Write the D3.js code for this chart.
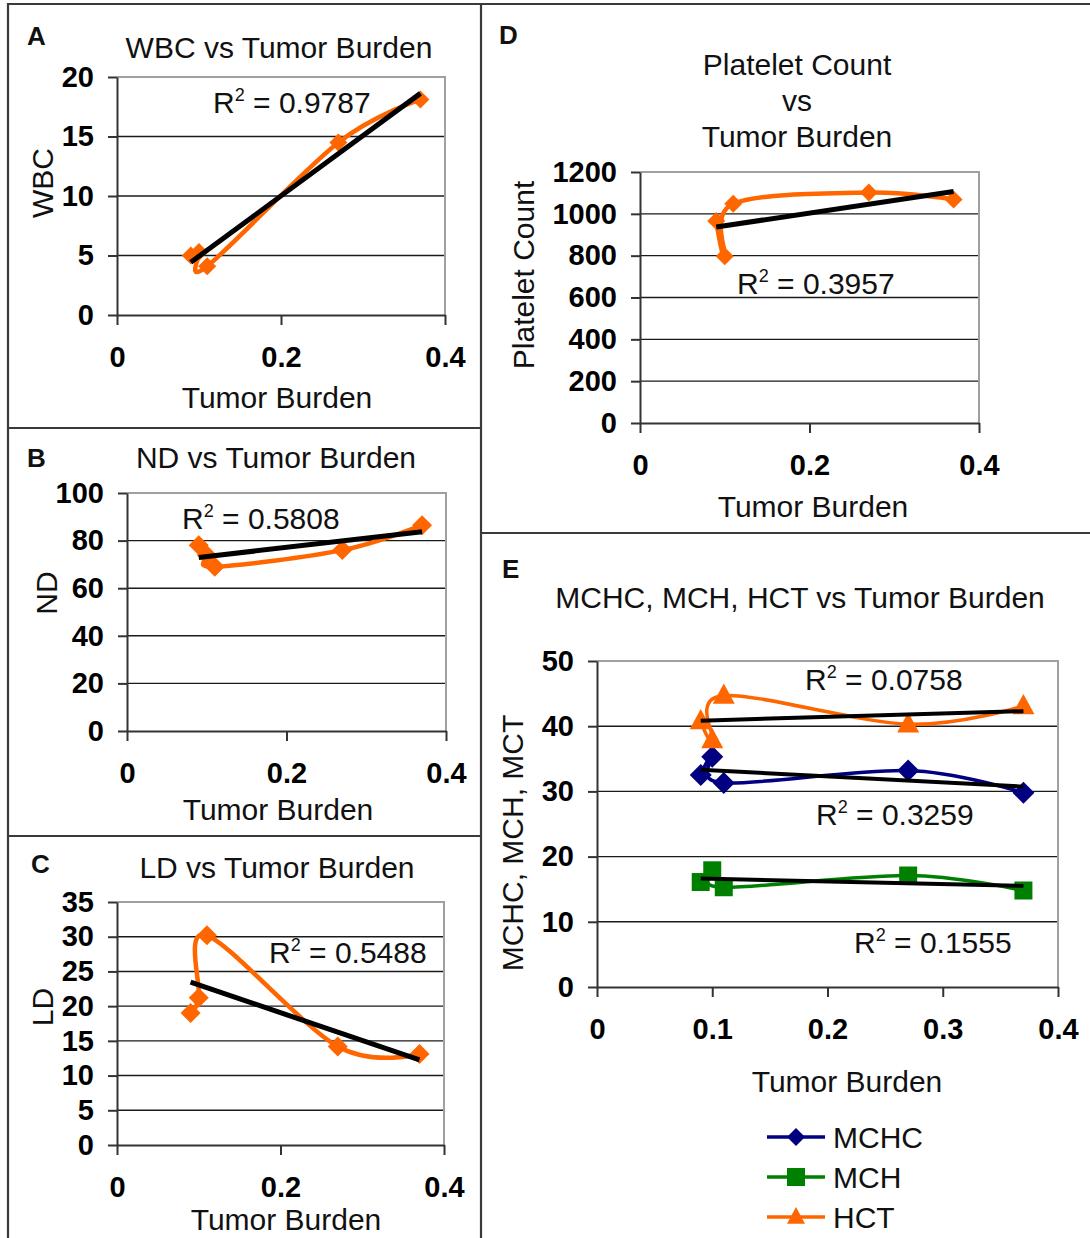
<!DOCTYPE html>
<html><head><meta charset="utf-8">
<script src="https://cdn.jsdelivr.net/npm/d3@7"></script>
<style>
body{margin:0;background:#fff}
svg{display:block;font-family:"Liberation Sans",Arial,Helvetica,sans-serif}
</style>
</head><body>
<svg id="chart" width="1090" height="1238"></svg>
<script>
// ---------- data ----------
const tumorBurden = [0.09, 0.10, 0.11, 0.27, 0.37];
const wbc = [5.0, 5.3, 4.1, 14.5, 18.1];
const nd = [78, 74, 69, 76, 86.5];
const ld = [19.0, 21.2, 30.2, 14.2, 13.1];
const plateletCount = [966, 797, 1048, 1102, 1069];
const mchc = [32.5, 35.3, 31.3, 33.2, 29.8];
const mch = [16.1, 17.9, 15.3, 17.1, 14.8];
const hct = [40.8, 37.9, 44.7, 40.3, 43.1];
const seriesNamesE = ["MCHC", "MCH", "HCT"];

const xTicks3 = [0, 0.2, 0.4];
const xTicks5 = [0, 0.1, 0.2, 0.3, 0.4];
const wbcTicks = [0, 5, 10, 15, 20];
const ndTicks = [0, 20, 40, 60, 80, 100];
const ldTicks = [0, 5, 10, 15, 20, 25, 30, 35];
const plateletTicks = [0, 200, 400, 600, 800, 1000, 1200];
const eTicks = [0, 10, 20, 30, 40, 50];

const r2A = "0.9787", r2B = "0.5808", r2C = "0.5488", r2D = "0.3957";
const r2E = ["0.3259", "0.1555", "0.0758"]; // MCHC, MCH, HCT

// ---------- helpers ----------
const svg = d3.select("#chart");
const ORANGE = "#ff6600", NAVY = "#000080", GREEN = "#008000";

function linReg(xs, ys) {
  const n = xs.length, mx = d3.mean(xs), my = d3.mean(ys);
  let sxy = 0, sxx = 0;
  for (let i = 0; i < n; i++) { sxy += (xs[i]-mx)*(ys[i]-my); sxx += (xs[i]-mx)**2; }
  const m = sxy / sxx, b = my - m * mx;
  const x0 = d3.min(xs), x1 = d3.max(xs);
  return [[x0, m*x0 + b], [x1, m*x1 + b]];
}

function markerPath(type, s) {
  if (type === "diamond") return `M0,${-s}L${s},0L0,${s}L${-s},0Z`;
  if (type === "square") return `M${-s},${-s}H${s}V${s}H${-s}Z`;
  return `M0,${-s*1.1}L${s},${s*0.75}L${-s},${s*0.75}Z`;
}

function r2Label(g, x, yb, val) {
  const t = g.append("text").attr("x", x).attr("y", yb).attr("font-size", 30).attr("fill", "#111");
  t.append("tspan").text("R");
  t.append("tspan").attr("dy", -12).attr("font-size", 18).text("2");
  t.append("tspan").attr("dy", 12).text(" = " + val);
}

function drawPanel(p) {
  const g = svg.append("g");
  const x = d3.scaleLinear().domain([0, 0.4]).range([p.l, p.r]);
  const y = d3.scaleLinear().domain([0, d3.max(p.yTicks)]).range([p.b, p.t]);

  // gridlines
  g.append("g").selectAll("line").data(p.yTicks.slice(1, -1)).join("line")
    .attr("x1", p.l).attr("x2", p.r).attr("y1", d => y(d)).attr("y2", d => y(d))
    .attr("stroke", "#1a1a1a").attr("stroke-width", 1.4);
  // plot frame top/right
  g.append("path").attr("d", `M${p.l},${p.t}H${p.r}V${p.b}`)
    .attr("fill", "none").attr("stroke", "#a0a0a0").attr("stroke-width", 2);

  // axes
  const ay = g.append("g").attr("transform", `translate(${p.l},0)`)
    .call(d3.axisLeft(y).tickValues(p.yTicks).tickSize(9).tickSizeOuter(0).tickPadding(14).tickFormat(d => d));
  const ax = g.append("g").attr("transform", `translate(0,${p.b})`)
    .call(d3.axisBottom(x).tickValues(p.xTicks).tickSize(10).tickSizeOuter(0).tickPadding(21).tickFormat(d => d === 0 ? "0" : String(d)));
  [ay, ax].forEach(a => {
    a.select(".domain").attr("stroke", "#333").attr("stroke-width", 2);
    a.selectAll(".tick line").attr("stroke", "#333").attr("stroke-width", 2);
    a.selectAll(".tick text").attr("font-size", 29).attr("font-weight", "bold")
      .attr("fill", "#000").attr("font-family", '"Liberation Sans",Arial,sans-serif');
  });

  // series
  const line = d3.line().x(d => x(d[0])).y(d => y(d[1])).curve(d3.curveCardinal.tension(0));
  p.series.forEach(s => {
    const pts = tumorBurden.map((t, i) => [t, s.values[i]]);
    g.append("path").attr("d", line(pts)).attr("fill", "none")
      .attr("stroke", s.color).attr("stroke-width", s.lw || 4).attr("stroke-linejoin", "round");
    g.append("g").selectAll("path").data(pts).join("path")
      .attr("transform", d => `translate(${x(d[0])},${y(d[1])})`)
      .attr("d", markerPath(s.marker, s.ms)).attr("fill", s.color);
  });
  // trend lines
  p.series.forEach(s => {
    const tr = linReg(tumorBurden, s.values);
    g.append("line").attr("x1", x(tr[0][0])).attr("y1", y(tr[0][1]))
      .attr("x2", x(tr[1][0])).attr("y2", y(tr[1][1]))
      .attr("stroke", "#000").attr("stroke-width", p.tw || 5);
  });
  // R2 labels
  p.r2.forEach(r => r2Label(g, r.x, r.y, r.v));

  // title
  p.title.forEach((tt, i) => {
    g.append("text").attr("x", p.titleX).attr("y", p.titleY + i * 36).attr("text-anchor", "middle")
      .attr("font-size", 30).attr("fill", "#111").text(tt);
  });
  // letter
  g.append("text").attr("x", p.letterX).attr("y", p.letterY).attr("font-size", 26)
    .attr("font-weight", "bold").attr("fill", "#111").text(p.letter);
  // axis titles
  g.append("text").attr("x", p.xlabX).attr("y", p.xlabY).attr("text-anchor", "middle")
    .attr("font-size", 30).attr("fill", "#111").text("Tumor Burden");
  g.append("text").attr("transform", `translate(${p.ylabX},${p.ylabY}) rotate(-90)`)
    .attr("text-anchor", "middle").attr("font-size", 30).attr("fill", "#111").text(p.ylab);
  return { x, y };
}

// ---------- panel frames ----------
const frame = svg.append("g").attr("stroke", "#3a3a3a").attr("stroke-width", 2.2).attr("fill", "none");
frame.append("path").attr("d", "M8,1238V4H1090");
frame.append("path").attr("d", "M481,4V1238");
frame.append("path").attr("d", "M8,428H481");
frame.append("path").attr("d", "M8,836H481");
frame.append("path").attr("d", "M481,533H1090");

// ---------- panels ----------
drawPanel({
  l: 117, r: 445, t: 77, b: 315, yTicks: wbcTicks, xTicks: xTicks3,
  series: [{ values: wbc, color: ORANGE, marker: "diamond", ms: 9, lw: 4.5 }],
  r2: [{ x: 213, y: 113, v: r2A }],
  title: ["WBC vs Tumor Burden"], titleX: 279, titleY: 58,
  letter: "A", letterX: 27, letterY: 45,
  xlabX: 277, xlabY: 408, ylab: "WBC", ylabX: 53, ylabY: 183
});
drawPanel({
  l: 127, r: 446, t: 493, b: 731, yTicks: ndTicks, xTicks: xTicks3,
  series: [{ values: nd, color: ORANGE, marker: "diamond", ms: 10, lw: 4.5 }],
  r2: [{ x: 182, y: 529, v: r2B }],
  title: ["ND vs Tumor Burden"], titleX: 276, titleY: 468,
  letter: "B", letterX: 27, letterY: 467,
  xlabX: 278, xlabY: 820, ylab: "ND", ylabX: 57, ylabY: 593
});
drawPanel({
  l: 117, r: 444, t: 902, b: 1145, yTicks: ldTicks, xTicks: xTicks3,
  series: [{ values: ld, color: ORANGE, marker: "diamond", ms: 10, lw: 4.5 }],
  r2: [{ x: 269, y: 963, v: r2C }],
  title: ["LD vs Tumor Burden"], titleX: 277, titleY: 878,
  letter: "C", letterX: 31, letterY: 873,
  xlabX: 286, xlabY: 1230, ylab: "LD", ylabX: 53, ylabY: 1007
});
drawPanel({
  l: 640, r: 979, t: 172, b: 423, yTicks: plateletTicks, xTicks: xTicks3,
  series: [{ values: plateletCount, color: ORANGE, marker: "diamond", ms: 9, lw: 4.5 }],
  r2: [{ x: 737, y: 294, v: r2D }],
  title: ["Platelet Count", "vs", "Tumor Burden"], titleX: 797, titleY: 75,
  letter: "D", letterX: 499, letterY: 44,
  xlabX: 813, xlabY: 517, ylab: "Platelet Count", ylabX: 534, ylabY: 275
});
drawPanel({
  l: 597, r: 1058, t: 661, b: 987, yTicks: eTicks, xTicks: xTicks5, tw: 4,
  series: [
    { values: mchc, color: NAVY, marker: "diamond", ms: 11, lw: 3.5 },
    { values: mch, color: GREEN, marker: "square", ms: 9, lw: 3.5 },
    { values: hct, color: ORANGE, marker: "triangle", ms: 11, lw: 3.5 }
  ],
  r2: [{ x: 816, y: 825, v: r2E[0] }, { x: 854, y: 953, v: r2E[1] }, { x: 805, y: 690, v: r2E[2] }],
  title: ["MCHC, MCH, HCT vs Tumor Burden"], titleX: 800, titleY: 608,
  letter: "E", letterX: 502, letterY: 578,
  xlabX: 847, xlabY: 1092, ylab: "MCHC, MCH, MCT", ylabX: 523, ylabY: 843
});

// ---------- legend (panel E) ----------
const legColors = [NAVY, GREEN, ORANGE], legMarkers = ["diamond", "square", "triangle"];
const leg = svg.append("g").selectAll("g").data(seriesNamesE).join("g")
  .attr("transform", (d, i) => `translate(767,${1137 + i * 40})`);
leg.append("line").attr("x1", 0).attr("x2", 58).attr("stroke", (d, i) => legColors[i]).attr("stroke-width", 3.5);
leg.append("path").attr("transform", "translate(29,0)").attr("d", (d, i) => markerPath(legMarkers[i], 9))
  .attr("fill", (d, i) => legColors[i]);
leg.append("text").attr("x", 66).attr("y", 11).attr("font-size", 30).attr("fill", "#111").text(d => d);
</script>
</body></html>
